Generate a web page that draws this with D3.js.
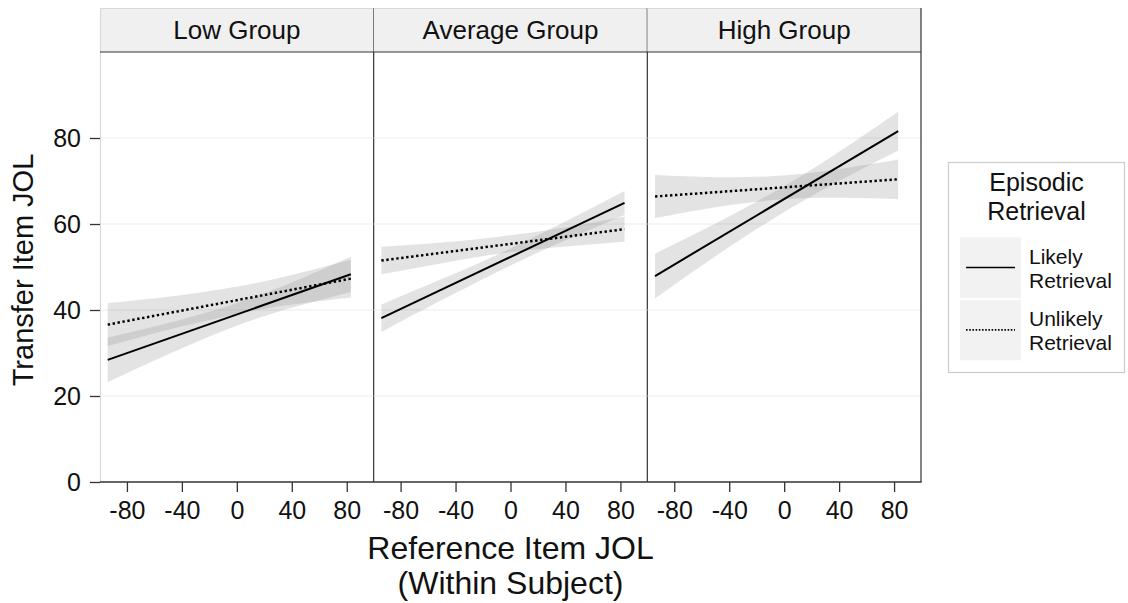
<!DOCTYPE html>
<html>
<head>
<meta charset="utf-8">
<script src="https://cdn.jsdelivr.net/npm/d3@7"></script>
<style>
  body { margin: 0; background: #fff; }
  svg { display: block; font-family: "Liberation Sans", Arial, Helvetica, sans-serif; }
</style>
</head>
<body>
<svg id="chart" width="1128" height="603"></svg>
<script>
// Facets and legend entries
const groups = ["Low Group", "Average Group", "High Group"];
const legendTitle = ["Episodic", "Retrieval"];
const legendLabels = [["Likely", "Retrieval"], ["Unlikely", "Retrieval"]];

// Fitted regression lines: predictor range and predicted JOL at each end
const xEnds = [-94, 83];
const likelyEnds   = [[28.4, 48.3], [38.1, 64.9], [47.9, 81.6]];
const unlikelyEnds = [[36.6, 47.3], [51.5, 58.8], [66.4, 70.4]];

// Confidence bands sampled along the predictor
const bandX = [-94, -50, -10, 30, 83];
const likelyLower   = [[23.2, 29.7, 35.1, 39.6, 44.2], [34.9, 42.3, 48.8, 54.8, 62.1], [42.7, 52.5, 60.8, 68.3, 77.1]];
const likelyUpper   = [[33.6, 37.0, 40.6, 45.1, 52.4], [41.3, 47.2, 52.8, 59.0, 67.7], [53.1, 60.1, 67.0, 74.7, 86.1]];
const unlikelyLower = [[31.6, 35.4, 38.4, 40.8, 42.9], [48.3, 50.9, 53.0, 54.5, 55.9], [61.4, 63.9, 65.5, 66.1, 65.8]];
const unlikelyUpper = [[41.6, 43.1, 44.9, 47.4, 51.7], [54.7, 55.7, 57.0, 58.7, 61.7], [71.4, 70.9, 71.1, 72.3, 75.0]];

// Axis ticks
const xTicks = [-80, -40, 0, 40, 80];
const yTicks = [0, 20, 40, 60, 80];
const gridTicks = [20, 40, 60, 80];

const svg = d3.select("#chart");

const plotLeft = 100, plotRight = 921;
const stripTop = 8, panelTop = 52, panelBottom = 482;
const panelW = (plotRight - plotLeft) / groups.length;

const y = d3.scaleLinear().domain([0, 100]).range([panelBottom, panelTop]);
const panelX = d3.scaleBand().domain(groups).range([plotLeft, plotRight]).paddingInner(0);

const bandFill = "#999999", bandOpacity = 0.27;
const darkLine = "#333333", lightLine = "#d9d9d9", gridColor = "#ebebeb";
const plainNum = d => String(d);

groups.forEach((g, gi) => {
  const x0 = panelX(g);
  const x = d3.scaleLinear().domain([-99.6, 99.6]).range([x0, x0 + panelW]);
  const panel = svg.append("g");

  // grid lines
  panel.selectAll("line.grid").data(gridTicks).join("line")
    .attr("x1", x0).attr("x2", x0 + panelW)
    .attr("y1", d => y(d)).attr("y2", d => y(d))
    .attr("stroke", gridColor).attr("stroke-width", 1);

  // confidence bands
  const area = d3.area()
    .x(d => x(d.x)).y0(d => y(d.lo)).y1(d => y(d.hi))
    .curve(d3.curveNatural);
  const bands = [
    bandX.map((bx, i) => ({ x: bx, lo: likelyLower[gi][i], hi: likelyUpper[gi][i] })),
    bandX.map((bx, i) => ({ x: bx, lo: unlikelyLower[gi][i], hi: unlikelyUpper[gi][i] }))
  ];
  panel.selectAll("path.band").data(bands).join("path")
    .attr("d", area)
    .attr("fill", bandFill).attr("fill-opacity", bandOpacity);

  // regression lines
  const line = d3.line().x(d => x(d.x)).y(d => y(d.y));
  const fits = [
    { pts: xEnds.map((ex, i) => ({ x: ex, y: likelyEnds[gi][i] })), dash: null, w: 2 },
    { pts: xEnds.map((ex, i) => ({ x: ex, y: unlikelyEnds[gi][i] })), dash: "2.4,2.6", w: 2.5 }
  ];
  panel.selectAll("path.fit").data(fits).join("path")
    .attr("d", d => line(d.pts))
    .attr("fill", "none").attr("stroke", "#000")
    .attr("stroke-width", d => d.w)
    .attr("stroke-dasharray", d => d.dash);

  // strip
  panel.append("rect")
    .attr("x", x0).attr("y", stripTop)
    .attr("width", panelW).attr("height", panelTop - stripTop)
    .attr("fill", "#f0f0f0");
  panel.append("line")
    .attr("x1", x0).attr("x2", x0 + panelW)
    .attr("y1", stripTop + 0.5).attr("y2", stripTop + 0.5)
    .attr("stroke", lightLine);
  panel.append("text")
    .attr("x", x0 + panelW / 2).attr("y", 39)
    .attr("text-anchor", "middle")
    .attr("font-size", 26).attr("fill", "#111")
    .text(g);

  // right edge of panel and strip
  panel.append("line")
    .attr("x1", x0 + panelW).attr("x2", x0 + panelW)
    .attr("y1", stripTop).attr("y2", panelBottom)
    .attr("stroke", darkLine).attr("stroke-width", 1.2);

  // bottom axis
  const ax = panel.append("g")
    .attr("transform", `translate(0,${panelBottom})`)
    .call(d3.axisBottom(x).tickValues(xTicks).tickSize(10).tickPadding(9).tickFormat(plainNum));
  ax.select(".domain").remove();
  ax.selectAll(".tick line").attr("stroke", darkLine).attr("stroke-width", 1.3);
  ax.selectAll(".tick text").attr("font-size", 25).attr("fill", "#111")
    .attr("font-family", "Liberation Sans, Arial, sans-serif");
});

// left panel edge (light) and strip/panel separators
svg.append("line")
  .attr("x1", plotLeft + 0.5).attr("x2", plotLeft + 0.5)
  .attr("y1", stripTop).attr("y2", panelBottom)
  .attr("stroke", lightLine).attr("stroke-width", 1.2);
svg.append("line")
  .attr("x1", plotLeft).attr("x2", plotRight)
  .attr("y1", panelTop).attr("y2", panelTop)
  .attr("stroke", darkLine).attr("stroke-width", 1.2);
svg.append("line")
  .attr("x1", plotLeft).attr("x2", plotRight + 0.6)
  .attr("y1", panelBottom).attr("y2", panelBottom)
  .attr("stroke", darkLine).attr("stroke-width", 1.3);

// y axis
const ay = svg.append("g")
  .attr("transform", `translate(${plotLeft},0)`)
  .call(d3.axisLeft(y).tickValues(yTicks).tickSize(10).tickPadding(9).tickFormat(plainNum));
ay.select(".domain").remove();
ay.selectAll(".tick line").attr("stroke", darkLine).attr("stroke-width", 1.3);
ay.selectAll(".tick text").attr("font-size", 25).attr("fill", "#111")
  .attr("font-family", "Liberation Sans, Arial, sans-serif");

// axis titles
svg.append("text")
  .attr("transform", `translate(33,${(panelTop + panelBottom) / 2 + 3}) rotate(-90)`)
  .attr("text-anchor", "middle")
  .attr("font-size", 29).attr("fill", "#111")
  .text("Transfer Item JOL");
const xTitle = svg.append("text")
  .attr("x", (plotLeft + plotRight) / 2)
  .attr("text-anchor", "middle")
  .attr("font-size", 32).attr("fill", "#111");
xTitle.append("tspan").attr("x", (plotLeft + plotRight) / 2).attr("y", 559).text("Reference Item JOL");
xTitle.append("tspan").attr("x", (plotLeft + plotRight) / 2).attr("y", 594).text("(Within Subject)");

// legend
const lg = svg.append("g");
lg.append("rect")
  .attr("x", 948.5).attr("y", 162.5).attr("width", 176).attr("height", 210)
  .attr("fill", "#fff").attr("stroke", "#cccccc").attr("stroke-width", 1.2);
lg.selectAll("text.title").data(legendTitle).join("text")
  .attr("x", 1036.5).attr("y", (d, i) => 191 + i * 28.5)
  .attr("text-anchor", "middle")
  .attr("font-size", 25).attr("fill", "#111")
  .text(d => d);

const keys = legendLabels.map((lab, i) => ({ lab, dash: i === 0 ? null : "1.6,1.6", w: 1.7 }));
const key = lg.selectAll("g.key").data(keys).join("g")
  .attr("transform", (d, i) => `translate(960,${237.5 + i * 62.3})`);
key.append("rect").attr("width", 61).attr("height", 60.5).attr("fill", "#f2f2f2");
key.append("line")
  .attr("x1", 6).attr("x2", 55).attr("y1", 30).attr("y2", 30)
  .attr("stroke", "#000").attr("stroke-width", d => d.w)
  .attr("stroke-dasharray", d => d.dash);
key.each(function (d) {
  const t = d3.select(this).append("text")
    .attr("font-size", 21).attr("fill", "#111");
  d.lab.forEach((s, j) => t.append("tspan").attr("x", 69).attr("y", 26 + j * 24).text(s));
});
</script>
</body>
</html>
